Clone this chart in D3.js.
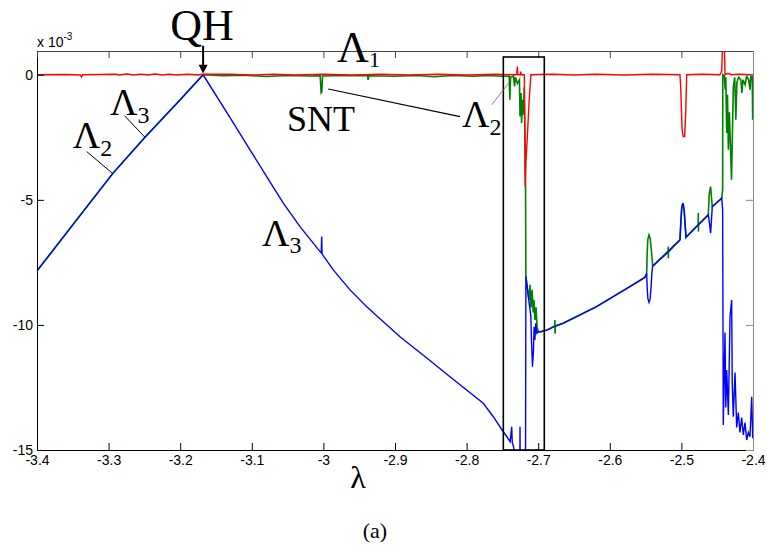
<!DOCTYPE html>
<html>
<head>
  <meta charset="utf-8">
  <script src="https://d3js.org/d3.v7.min.js"></script>
  <style>
    body { margin: 0; background: #fff; }
    svg { display: block; }
    .lbl { font-family: "Liberation Serif", "Times New Roman", serif; fill: #000; }
  </style>
</head>
<body>
<svg width="767" height="549"></svg>
<script>
// values in units of 1e-3, x is lambda
var xTicks = [-3.4, -3.3, -3.2, -3.1, -3, -2.9, -2.8, -2.7, -2.6, -2.5, -2.4];
var yTicks = [0, -5, -10, -15];

// Lambda_1 (red)
var lambda1 = [
  [-3.4, 0], [-3.36, 0.01], [-3.339, -0.01], [-3.338, -0.09], [-3.336, 0], [-3.31, 0.01],
  [-3.29, 0.02], [-3.285, -0.01], [-3.275, 0.03], [-3.265, -0.01], [-3.255, 0.02], [-3.245, -0.01],
  [-3.235, 0.03], [-3.225, -0.01], [-3.215, 0.02], [-3.205, -0.01], [-3.19, 0.02], [-3.175, -0.01], [-3.168, 0.02],
  [-3.13, 0.02], [-3.1, -0.01], [-3.07, 0.02], [-3.04, -0.01], [-3.0, 0.02], [-2.96, -0.01], [-2.92, 0.02],
  [-2.88, -0.01], [-2.84, 0.02], [-2.8, -0.01], [-2.76, 0.02], [-2.73, 0.0],
  [-2.7291, 0.33], [-2.7284, 0.0], [-2.725, 0.0], [-2.7244, 0.13], [-2.7238, 0.0], [-2.7194, 0.0],
  [-2.7182, -4.47], [-2.7172, -3.53], [-2.7149, -2.33], [-2.7126, -1.0], [-2.7102, 0.0],
  [-2.68, 0.02], [-2.65, -0.01], [-2.62, 0.02], [-2.58, -0.01], [-2.54, 0.02], [-2.502, 0.0],
  [-2.501, -0.5], [-2.499, -2.2], [-2.4975, -2.47], [-2.4955, -2.47], [-2.494, -1.5], [-2.4926, 0.0],
  [-2.47, 0.02], [-2.4461, 0.0], [-2.4437, 0.15], [-2.4424, 1.3], [-2.4401, 1.3], [-2.4391, 0.0],
  [-2.435, 0.06], [-2.43, 0.0], [-2.42, 0.02], [-2.4, 0.0]
];

// Lambda_2 (green)
var lambda2 = [
  [-3.4, -7.84], [-3.35, -6.0], [-3.2943, -3.95], [-3.2492, -2.5], [-3.2, -1.0], [-3.168, 0],
  [-3.14, -0.04], [-3.11, -0.02], [-3.08, -0.07], [-3.05, -0.03], [-3.02, -0.05], [-3.0045, -0.04],
  [-3.0032, -0.72], [-3.0022, -0.68], [-3.0012, -0.05],
  [-2.97, -0.03], [-2.9385, -0.04], [-2.9375, -0.2], [-2.9365, -0.04], [-2.90, -0.06], [-2.87, -0.03],
  [-2.845, -0.08], [-2.82, -0.03], [-2.79, -0.06], [-2.77, -0.03], [-2.75, -0.06],
  [-2.7405, -0.05], [-2.7396, -1.0], [-2.7386, -0.1], [-2.7345, -0.05], [-2.733, -0.47], [-2.7318, -0.1],
  [-2.729, -0.35], [-2.7262, -0.2],
  [-2.7254, -1.67], [-2.724, -0.73], [-2.7232, -1.93], [-2.7217, -1.0], [-2.7205, -1.6], [-2.7195, -0.5],
  [-2.7182, -3.0], [-2.7177, -4.5], [-2.7172, -8.07],
  [-2.7149, -8.6], [-2.713, -9.0], [-2.7115, -8.4], [-2.71, -9.3], [-2.7085, -8.6], [-2.707, -9.5],
  [-2.706, -9.0], [-2.7045, -9.8], [-2.703, -9.3], [-2.7015, -10.1], [-2.6996, -10.27],
  [-2.6966, -10.27], [-2.6873, -10.2], [-2.677, -10.05], [-2.6767, -9.8], [-2.6764, -10.35], [-2.6761, -10.05],
  [-2.665, -9.93], [-2.6418, -9.6], [-2.6185, -9.27], [-2.5953, -8.87], [-2.572, -8.47], [-2.5511, -8.1],
  [-2.5485, -7.95], [-2.548, -7.3], [-2.547, -6.6], [-2.5452, -6.4], [-2.5436, -6.55], [-2.542, -7.0],
  [-2.5408, -7.4], [-2.5401, -7.65],
  [-2.5186, -7.1], [-2.5184, -6.87], [-2.5182, -7.33], [-2.518, -7.08], [-2.502, -6.6],
  [-2.5008, -5.9], [-2.4995, -5.3], [-2.4978, -5.13], [-2.4962, -5.4], [-2.4948, -6.0], [-2.4935, -6.5], [-2.4927, -6.47],
  [-2.4766, -6.0], [-2.4764, -5.53], [-2.4762, -6.27], [-2.476, -5.99], [-2.4624, -5.6],
  [-2.4612, -4.8], [-2.4592, -4.47], [-2.458, -4.9], [-2.4569, -5.27],
  [-2.4461, -5.0], [-2.4437, -4.93], [-2.4424, -4.6], [-2.4422, 0], [-2.44, -0.05], [-2.4388, -0.6],
  [-2.438, -0.1], [-2.4367, -2.33], [-2.4356, -0.8], [-2.4344, -3.0], [-2.433, -1.5], [-2.43, -4.2],
  [-2.4285, -2.0], [-2.4275, -0.5], [-2.4255, -0.1], [-2.424, -1.8], [-2.4225, -0.3], [-2.42, -0.1],
  [-2.417, -0.2], [-2.4155, -0.73], [-2.414, -0.2], [-2.411, -0.4], [-2.409, -0.05], [-2.406, -0.2],
  [-2.4042, -0.6], [-2.403, -0.05], [-2.401, -0.1], [-2.4005, -1.8], [-2.4, -0.05]
];

// Lambda_3 (blue)
var lambda3 = [
  [-3.4, -7.84], [-3.35, -6.0], [-3.2943, -3.95], [-3.2492, -2.5], [-3.2, -1.0], [-3.168, 0],
  [-3.1256, -1.93], [-3.1025, -3.0], [-3.0792, -4.07], [-3.056, -5.13], [-3.0327, -6.07], [-3.0047, -7.07],
  [-3.003, -7.12], [-3.0024, -6.47], [-3.0019, -7.15], [-3.0005, -7.22],
  [-2.9862, -7.8], [-2.9628, -8.6], [-2.9395, -9.27], [-2.9163, -9.87], [-2.893, -10.47], [-2.8697, -11.0],
  [-2.8465, -11.53], [-2.8232, -12.07], [-2.8, -12.6], [-2.7767, -13.13], [-2.7627, -13.67], [-2.7488, -14.27],
  [-2.7437, -14.47], [-2.7391, -14.67], [-2.737, -14.07], [-2.7362, -14.7], [-2.7344, -14.87], [-2.733, -15.5],
  [-2.7256, -15.5], [-2.7254, -14.07], [-2.7252, -15.5], [-2.7177, -15.5], [-2.7172, -8.07],
  [-2.7149, -8.6], [-2.7126, -9.13], [-2.7102, -9.67], [-2.7094, -10.6], [-2.708, -11.67], [-2.7066, -11.0],
  [-2.7057, -10.07], [-2.7047, -10.6], [-2.7033, -9.93], [-2.7019, -10.33], [-2.6996, -10.27],
  [-2.6966, -10.27], [-2.6873, -10.2], [-2.6767, -10.05], [-2.665, -9.93], [-2.6418, -9.6], [-2.6185, -9.27],
  [-2.5953, -8.87], [-2.572, -8.47], [-2.5511, -8.1],
  [-2.5485, -7.95], [-2.5478, -8.5], [-2.5468, -8.95], [-2.5452, -9.1], [-2.5436, -8.95], [-2.5424, -8.5],
  [-2.5412, -7.9], [-2.5401, -7.65],
  [-2.5205, -7.1], [-2.502, -6.6],
  [-2.5008, -5.9], [-2.4995, -5.3], [-2.4978, -5.13], [-2.4962, -5.4], [-2.4948, -6.0], [-2.4935, -6.5], [-2.4927, -6.47],
  [-2.4764, -6.0], [-2.4624, -5.6],
  [-2.4605, -6.0], [-2.4592, -6.33], [-2.458, -5.8], [-2.4569, -5.27],
  [-2.4461, -5.0], [-2.4437, -4.93], [-2.4424, -5.4], [-2.4415, -14.0],
  [-2.4391, -10.3], [-2.438, -13.3], [-2.4367, -11.8], [-2.4344, -13.6], [-2.4321, -9.67], [-2.4298, -9.0],
  [-2.429, -12.3], [-2.4275, -13.67], [-2.4251, -11.9], [-2.4228, -14.1], [-2.4205, -13.5], [-2.4182, -14.3],
  [-2.4158, -13.7], [-2.4135, -14.4], [-2.4112, -13.9], [-2.4088, -14.6], [-2.4065, -14.3], [-2.4042, -14.47],
  [-2.4018, -12.87], [-2.4004, -14.53]
];

var svg = d3.select('svg');
var plotLeft = 37, plotRight = 753, plotTop = 51, plotBottom = 450;

var xScale = d3.scaleLinear().domain([-3.4, -2.4]).range([plotLeft, plotRight]);
var yScale = d3.scaleLinear().domain([-15, 0.95]).range([plotBottom, plotTop]);

svg.append('defs').append('clipPath').attr('id', 'plotclip')
  .append('rect')
  .attr('x', plotLeft).attr('y', plotTop)
  .attr('width', plotRight - plotLeft).attr('height', plotBottom - plotTop);

var line = d3.line()
  .x(function (d) { return xScale(d[0]); })
  .y(function (d) { return yScale(d[1]); });

var plot = svg.append('g').attr('clip-path', 'url(#plotclip)');

plot.append('path').datum(lambda2)
  .attr('d', line).attr('fill', 'none').attr('stroke', '#008000').attr('stroke-width', 1.6);
plot.append('path').datum(lambda3)
  .attr('d', line).attr('fill', 'none').attr('stroke', '#0000ff').attr('stroke-width', 1.4);
plot.append('path').datum(lambda1)
  .attr('d', line).attr('fill', 'none').attr('stroke', '#ff0000').attr('stroke-width', 1.4);

// axes (matlab style, ticks inside)
var xAxis = d3.axisBottom(xScale).tickValues(xTicks)
  .tickFormat(function (d) { return String(d); })
  .tickSizeInner(-7).tickSizeOuter(0).tickPadding(5);
var yAxis = d3.axisLeft(yScale).tickValues(yTicks)
  .tickFormat(function (d) { return String(d); })
  .tickSizeInner(-7).tickSizeOuter(0).tickPadding(4);

var gx = svg.append('g').attr('transform', 'translate(0,' + plotBottom + ')').call(xAxis);
var gy = svg.append('g').attr('transform', 'translate(' + plotLeft + ',0)').call(yAxis);
var gt = svg.append('g').attr('transform', 'translate(0,' + plotTop + ')')
  .call(d3.axisTop(xScale).tickValues(xTicks).tickFormat('').tickSizeInner(-7).tickSizeOuter(0));
var gr = svg.append('g').attr('transform', 'translate(' + plotRight + ',0)')
  .call(d3.axisRight(yScale).tickValues(yTicks).tickFormat('').tickSizeInner(-7).tickSizeOuter(0));

gx.selectAll('path, line').attr('stroke', '#000');
gy.selectAll('path, line').attr('stroke', '#000');
gt.selectAll('path, line').attr('stroke', '#444');
gr.selectAll('path, line').attr('stroke', '#888');
[gx, gy].forEach(function (g) {
  g.selectAll('text')
    .attr('font-family', '"Liberation Sans", Arial, sans-serif')
    .attr('font-size', 14).attr('fill', '#000');
});

// exponent
var expo = svg.append('text').attr('x', plotLeft).attr('y', 47)
  .style('font-family', '"Liberation Sans", Arial, sans-serif').style('font-size', '14px');
expo.append('tspan').text('x 10');
expo.append('tspan').attr('dy', -7).style('font-size', '10px').text('-3');

// zoom box
svg.append('rect')
  .attr('x', xScale(-2.7487)).attr('y', yScale(0.71))
  .attr('width', xScale(-2.6915) - xScale(-2.7487))
  .attr('height', yScale(-15) - yScale(0.71))
  .attr('fill', 'none').attr('stroke', '#000').attr('stroke-width', 1.6);

// labels
function label(lx, ly, main, sub, size, subSize, subDy) {
  var t = svg.append('text').attr('class', 'lbl')
    .attr('x', xScale(lx)).attr('y', yScale(ly)).style('font-size', size + 'px');
  t.append('tspan').text(main);
  if (sub) t.append('tspan').attr('dy', subDy).style('font-size', subSize + 'px').text(sub);
}

function leader(a, b, color, w) {
  svg.append('line')
    .attr('x1', xScale(a[0])).attr('y1', yScale(a[1]))
    .attr('x2', xScale(b[0])).attr('y2', yScale(b[1]))
    .attr('stroke', color).attr('stroke-width', w);
}

label(-3.214, 1.4, 'QH', null, 44);
label(-2.981, 0.52, 'Λ', '1', 44, 22, 5);
label(-3.0508, -2.24, 'SNT', null, 36);
label(-2.8064, -2.08, 'Λ', '2', 38, 24, 8);
label(-3.298, -1.6, 'Λ', '3', 38, 24, 8);
label(-3.35, -2.92, 'Λ', '2', 38, 24, 8);
label(-3.0858, -6.84, 'Λ', '3', 38, 24, 7);

leader([-2.9932, -0.57], [-2.8092, -1.67], '#000', 1.2);
leader([-2.765, -1.2], [-2.7394, -0.27], '#666', 0.8);
leader([-3.278, -1.63], [-3.2492, -2.5], '#000', 1);
leader([-3.3306, -3.07], [-3.2943, -3.95], '#000', 1);

// arrow to QH
svg.append('line')
  .attr('x1', xScale(-3.168)).attr('y1', yScale(1.16))
  .attr('x2', xScale(-3.168)).attr('y2', yScale(0.35))
  .attr('stroke', '#000').attr('stroke-width', 2);
svg.append('path')
  .attr('d', 'M' + (xScale(-3.168) - 4.5) + ',' + yScale(0.4) +
    'L' + (xScale(-3.168) + 4.5) + ',' + yScale(0.4) +
    'L' + xScale(-3.168) + ',' + yScale(0.05) + 'Z')
  .attr('fill', '#000');

// axis title and caption
svg.append('text').attr('class', 'lbl')
  .attr('x', xScale(-2.9517)).attr('y', 488)
  .attr('text-anchor', 'middle').style('font-size', '32px').text('λ');
svg.append('text').attr('class', 'lbl')
  .attr('x', 375).attr('y', 538)
  .attr('text-anchor', 'middle').style('font-size', '22px').text('(a)');
</script>
</body>
</html>
